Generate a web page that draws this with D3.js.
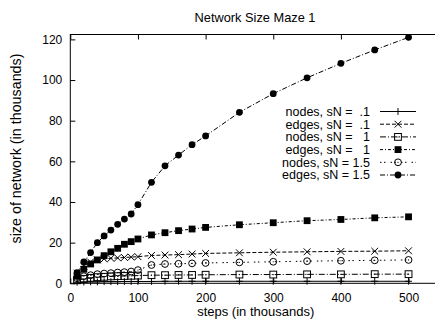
<!DOCTYPE html>
<html>
<head>
<meta charset="utf-8">
<script src="https://cdn.jsdelivr.net/npm/d3@7"></script>
<style>
  html, body { margin: 0; padding: 0; background: #fff; }
  svg { display: block; }
  text { font-family: "Liberation Sans", Arial, Helvetica, sans-serif; fill: #000; }
</style>
</head>
<body>
<svg id="chart" width="435" height="327"></svg>
<script>
// Sample points (thousands of steps)
const steps = [10, 20, 30, 40, 50, 60, 70, 80, 90, 100, 120, 140, 160, 180, 200, 250, 300, 350, 400, 450, 500];

// Network size (thousands) per run
const nodesSN01 = [0.5, 0.6, 0.7, 0.7, 0.8, 0.8, 0.8, 0.9, 0.9, 0.9, 0.9, 1.0, 1.0, 1.0, 1.0, 1.0, 1.0, 1.0, 1.0, 1.0, 1.0];
const edgesSN01 = [5.0, 8.5, 10.5, 11.5, 12.0, 12.3, 12.5, 12.7, 12.9, 13.1, 13.7, 13.9, 14.1, 14.4, 14.7, 15.0, 15.3, 15.5, 15.7, 15.8, 16.0];
const nodesSN1  = [1.5, 2.2, 2.7, 3.0, 3.2, 3.4, 3.5, 3.6, 3.7, 3.8, 4.0, 4.0, 4.1, 4.1, 4.2, 4.3, 4.3, 4.4, 4.4, 4.5, 4.5];
const edgesSN1  = [3.5, 6.9, 9.5, 11.5, 13.6, 15.5, 17.2, 19.2, 20.5, 21.8, 23.8, 24.9, 25.9, 26.7, 27.5, 28.8, 29.8, 30.8, 31.4, 32.2, 32.7];
const nodesSN15 = [2.5, 3.5, 4.0, 4.5, 4.8, 5.0, 5.3, 5.5, 5.8, 6.5, 9.0, 9.5, 9.6, 9.8, 10.0, 10.3, 10.6, 10.9, 11.1, 11.3, 11.5];
const edgesSN15 = [5.2, 10.5, 15.1, 20.0, 23.3, 26.2, 29.0, 31.6, 34.1, 38.7, 49.7, 57.8, 63.1, 68.2, 72.5, 84.1, 93.3, 101.1, 108.2, 114.8, 121.0];

const seriesLabels = ["nodes, sN =  .1", "edges, sN =  .1", "nodes, sN =   1", "edges, sN =   1", "nodes, sN = 1.5", "edges, sN = 1.5"];
const xTicks = [0, 100, 200, 300, 400, 500];
const yTicks = [0, 20, 40, 60, 80, 100, 120];

const titleText = "Network Size Maze 1";
const xLabel = "steps (in thousands)";
const yLabel = "size of network (in thousands)";

// Line/marker styling per series
const styles = [
  { values: nodesSN01, dash: null,        marker: "plus" },
  { values: edgesSN01, dash: "4,2",       marker: "cross" },
  { values: nodesSN1,  dash: "6,2,1,2",   marker: "openSquare" },
  { values: edgesSN1,  dash: "3,2,1,2",   marker: "filledSquare" },
  { values: nodesSN15, dash: "1.5,2.5,1.5,5", marker: "openCircle" },
  { values: edgesSN15, dash: "5,2,1,2",   marker: "filledCircle" }
];

const svg = d3.select("#chart");
const margin = { left: 70.3, top: 34.5, bottom: 283.3 };
const x = d3.scaleLinear().domain([0, 550]).range([margin.left, margin.left + 550 * 0.6765]);
const y = d3.scaleLinear().domain([0, 122.4]).range([margin.bottom, margin.top]);

// Title
svg.append("text")
  .attr("x", 255).attr("y", 21.5)
  .attr("text-anchor", "middle")
  .style("font-size", "12.8px")
  .text(titleText);

// Frame
const x0 = x.range()[0], x1 = x.range()[1];
svg.append("rect")
  .attr("x", x0).attr("y", margin.top)
  .attr("width", x1 - x0).attr("height", margin.bottom - margin.top)
  .attr("fill", "none").attr("stroke", "#000").attr("stroke-width", 1);

// Axes with inward ticks
const tickLen = 5;
const xAxisBottom = d3.axisBottom(x).tickValues(xTicks).tickSize(-tickLen).tickPadding(tickLen + 5).tickFormat(d3.format("d"));
const gx = svg.append("g").attr("transform", `translate(0,${margin.bottom})`).call(xAxisBottom);
const xAxisTop = d3.axisTop(x).tickValues(xTicks).tickSize(-tickLen).tickFormat("");
const gxt = svg.append("g").attr("transform", `translate(0,${margin.top})`).call(xAxisTop);
const yAxisLeft = d3.axisLeft(y).tickValues(yTicks).tickSize(-tickLen).tickPadding(tickLen + 3).tickFormat(d3.format("d"));
const gy = svg.append("g").attr("transform", `translate(${margin.left},0)`).call(yAxisLeft);

[gx, gxt, gy].forEach(g => {
  g.select(".domain").remove();
  g.selectAll(".tick line").attr("stroke", "#000");
  g.selectAll(".tick text").attr("fill", "#000")
    .style("font-size", "12px")
    .style("font-family", '"Liberation Sans", Arial, Helvetica, sans-serif');
});

// Axis titles
svg.append("text")
  .attr("x", 255.7).attr("y", 316)
  .attr("text-anchor", "middle")
  .style("font-size", "13px")
  .text(xLabel);
svg.append("text")
  .attr("transform", `translate(21,148.5) rotate(-90)`)
  .attr("text-anchor", "middle")
  .style("font-size", "14.3px")
  .text(yLabel);

// Marker drawing
function drawMarker(g, type, cx, cy) {
  const s = 3.4;
  switch (type) {
    case "plus":
      g.append("path").attr("d", `M${cx - s},${cy}H${cx + s}M${cx},${cy - s}V${cy + s}`)
        .attr("stroke", "#000").attr("fill", "none");
      break;
    case "cross":
      g.append("path").attr("d", `M${cx - s},${cy - s}L${cx + s},${cy + s}M${cx - s},${cy + s}L${cx + s},${cy - s}`)
        .attr("stroke", "#000").attr("fill", "none");
      break;
    case "openSquare":
      g.append("rect").attr("x", cx - s).attr("y", cy - s).attr("width", 2 * s).attr("height", 2 * s)
        .attr("fill", "none").attr("stroke", "#000");
      g.append("circle").attr("cx", cx).attr("cy", cy).attr("r", 0.6).attr("fill", "#000");
      break;
    case "filledSquare":
      g.append("rect").attr("x", cx - s).attr("y", cy - s).attr("width", 2 * s).attr("height", 2 * s)
        .attr("fill", "#000");
      break;
    case "openCircle":
      g.append("circle").attr("cx", cx).attr("cy", cy).attr("r", s).attr("fill", "none").attr("stroke", "#000");
      g.append("circle").attr("cx", cx).attr("cy", cy).attr("r", 0.6).attr("fill", "#000");
      break;
    case "filledCircle":
      g.append("circle").attr("cx", cx).attr("cy", cy).attr("r", s).attr("fill", "#000");
      break;
  }
}

// Data lines and markers
const line = d3.line().x(d => x(d[0])).y(d => y(d[1]));
const plot = svg.append("g");
styles.forEach(st => {
  const pts = steps.map((s, i) => [s, st.values[i]]);
  plot.append("path").datum(pts)
    .attr("d", line)
    .attr("fill", "none").attr("stroke", "#000").attr("stroke-width", 1)
    .attr("stroke-dasharray", st.dash);
  const mg = plot.append("g");
  pts.forEach(p => drawMarker(mg, st.marker, x(p[0]), y(p[1])));
});

// Legend
const legendRight = 370, lineX0 = 380, lineX1 = 416, rowY0 = 111.5, rowStep = 12.7;
const legend = svg.append("g");
styles.forEach((st, i) => {
  const cy = rowY0 + i * rowStep;
  legend.append("text")
    .attr("x", legendRight).attr("y", cy)
    .attr("dy", "0.35em")
    .attr("text-anchor", "end")
    .style("font-size", "12.5px")
    .style("white-space", "pre")
    .attr("xml:space", "preserve")
    .text(seriesLabels[i]);
  legend.append("line")
    .attr("x1", lineX0).attr("x2", lineX1).attr("y1", cy).attr("y2", cy)
    .attr("stroke", "#000").attr("stroke-dasharray", st.dash);
  drawMarker(legend, st.marker, (lineX0 + lineX1) / 2, cy);
});
</script>
</body>
</html>
